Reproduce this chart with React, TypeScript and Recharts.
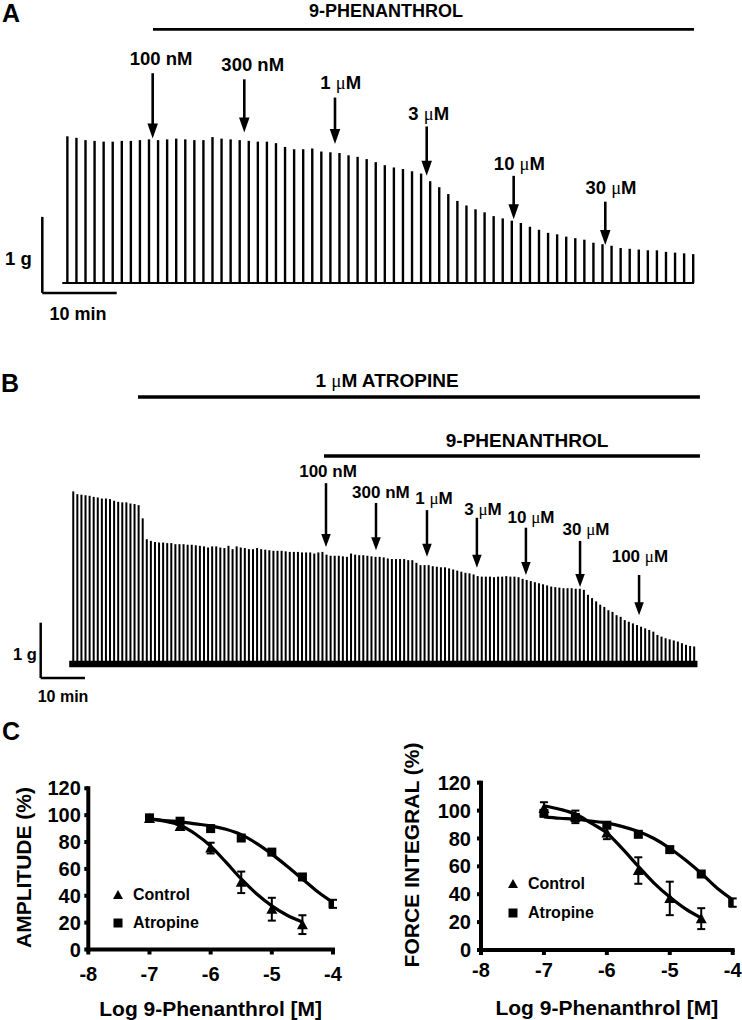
import React from 'react';
import {
  BarChart,
  Bar,
  ComposedChart,
  Line,
  Scatter,
  ErrorBar,
  XAxis,
  YAxis,
  ReferenceLine,
  ReferenceDot,
  Legend,
} from 'recharts';

const FONT = '"Liberation Sans", Arial, Helvetica, sans-serif';
const MU_FONT = '"Liberation Serif", "Times New Roman", serif';
const PAGE_W = 742;

// ---- panel A: peak tension of each spontaneous contraction (g above baseline)
const ampA = [
  1.93, 1.91, 1.88, 1.87, 1.86, 1.86, 1.87, 1.87, 1.88, 1.89, 1.88, 1.89, 1.9, 1.89, 1.88, 1.88, 1.92,
  1.9, 1.89, 1.88, 1.87, 1.86, 1.86, 1.84, 1.79, 1.76, 1.76, 1.77, 1.73, 1.72, 1.71, 1.68, 1.66, 1.63,
  1.59, 1.55, 1.52, 1.5, 1.47, 1.44, 1.34, 1.26, 1.17, 1.08, 1.02, 0.97, 0.93, 0.88, 0.85, 0.82,
  0.79, 0.74, 0.7, 0.66, 0.64, 0.61, 0.59, 0.57, 0.53, 0.51, 0.49, 0.46, 0.45, 0.44, 0.43, 0.43,
  0.41, 0.4, 0.39, 0.38,
];

// ---- panel B: same, with atropine in the bath
const ampB = [
  3.12, 3.07, 3.06, 3.05, 3.04, 3.02, 3.01, 2.99, 2.99, 2.98, 2.95, 2.93, 2.92, 2.92, 2.9, 2.89, 2.87,
  2.63,
  2.25, 2.22, 2.2, 2.19, 2.19, 2.18, 2.18, 2.16, 2.16, 2.16, 2.15, 2.15, 2.14, 2.13, 2.12, 2.1, 2.12,
  2.12, 2.1, 2.09, 2.13, 2.07, 2.12, 2.1, 2.09, 2.07, 2.07, 2.09, 2.07, 2.06, 2.05, 2.04, 2.04, 2.04,
  2.03, 2.02, 2.02, 2.02, 2.01, 2.01, 2.01, 1.99, 2.01, 2.02, 1.97, 1.95, 1.95, 1.95, 1.94, 1.93,
  1.99, 1.97, 1.96, 1.96, 1.95, 1.94, 1.93, 1.93,
  1.92, 1.9, 1.89, 1.89, 1.89, 1.89, 1.87, 1.87, 1.82, 1.78, 1.78, 1.78, 1.76, 1.75, 1.74, 1.74,
  1.72, 1.7, 1.68, 1.66, 1.64, 1.63, 1.61, 1.58, 1.57, 1.57, 1.57, 1.56, 1.57, 1.57, 1.58, 1.57,
  1.57, 1.56, 1.53, 1.51, 1.49, 1.47, 1.45, 1.43, 1.41, 1.39, 1.38, 1.37, 1.36, 1.36, 1.36, 1.35,
  1.35, 1.33, 1.24, 1.18, 1.12, 1.06, 1.02, 0.96, 0.93, 0.87, 0.84, 0.78, 0.75, 0.72, 0.69, 0.66,
  0.63, 0.6, 0.57, 0.51, 0.48, 0.45, 0.43, 0.41, 0.39, 0.36, 0.33, 0.31, 0.3,
];

// ---- panel C: concentration-response (mean, SEM) and fitted curves
const logDoseControl = [-7, -6.5, -6, -5.5, -5, -4.5];
const logDoseAtropine = [-7, -6.5, -6, -5.5, -5, -4.5, -4];
const amplitudeControl = [97.5, 91.5, 75.5, 50, 30, 18.5];
const amplitudeControlSem = [2, 2.5, 4, 8, 8.5, 7];
const amplitudeAtropine = [98, 95.5, 90, 83, 72.5, 54, 34];
const amplitudeAtropineSem = [1.5, 1.5, 1.5, 1.5, 1.5, 2, 3];
const forceControl = [101.5, 95.5, 84, 57, 37, 22.5];
const forceControlSem = [4.5, 4.5, 4.5, 9.5, 12, 7.5];
const forceAtropine = [98, 95, 89.5, 83, 72, 54.5, 34];
const forceAtropineSem = [2, 2, 2, 2, 1.5, 2, 3];

const fitLogDose = [-7, -6.75, -6.5, -6.25, -6, -5.75, -5.5, -5.25, -5, -4.75, -4.5, -4.25, -4];
const amplitudeFitControl = [97, 95.5, 92.5, 86, 77, 65, 52.5, 41.5, 32.5, 25.5, 20.5];
const amplitudeFitAtropine = [97.5, 96, 95, 93.5, 92, 89.5, 85.5, 79, 71, 62, 52.5, 43, 35];
const forceFitControl = [103.5, 101, 97.5, 91, 84, 72.5, 60, 48, 38, 29.5, 23];
const forceFitAtropine = [95.5, 94.5, 93.8, 92.5, 91, 88.5, 85, 80, 73, 64.5, 55, 44.5, 36];

// ---- annotations, in trace units (x: contraction number, y: g)
const arrowsA = [
  { label: '100 nM', x: 9.37, top: 2.76, tip: 1.9, lx: 10.3, ly: 2.87 },
  { label: '300 nM', x: 19.47, top: 2.68, tip: 1.98, lx: 20.4, ly: 2.79 },
  { label: '1 μM', x: 29.47, top: 2.44, tip: 1.83, lx: 30.1, ly: 2.55 },
  { label: '3 μM', x: 39.58, top: 2.06, tip: 1.41, lx: 39.8, ly: 2.14 },
  { label: '10 μM', x: 49.17, top: 1.41, tip: 0.84, lx: 49.8, ly: 1.49 },
  { label: '30 μM', x: 59.27, top: 1.07, tip: 0.5, lx: 59.9, ly: 1.17 },
];
const arrowsB = [
  { label: '100 nM', x: 61.86, top: 3.27, tip: 2.11, lx: 62.35, ly: 3.38 },
  { label: '300 nM', x: 74.1, top: 2.91, tip: 2.05, lx: 75.3, ly: 3.0 },
  { label: '1 μM', x: 86.58, top: 2.78, tip: 1.93, lx: 88.3, ly: 2.89 },
  { label: '3 μM', x: 98.8, top: 2.64, tip: 1.73, lx: 100.3, ly: 2.69 },
  { label: '10 μM', x: 110.8, top: 2.46, tip: 1.6, lx: 112.05, ly: 2.55 },
  { label: '30 μM', x: 124.05, top: 2.22, tip: 1.38, lx: 125.5, ly: 2.33 },
  { label: '100 μM', x: 138.5, top: 1.6, tip: 0.87, lx: 138.7, ly: 1.84 },
];

function withMu(text: string) {
  const out: React.ReactNode[] = [];
  text.split('μ').forEach((part, k) => {
    if (k > 0) {
      out.push(
        <tspan key={'m' + k} fontFamily={MU_FONT} fontWeight="normal">
          μ
        </tspan>
      );
    }
    if (part) out.push(<tspan key={'t' + k}>{part}</tspan>);
  });
  return out;
}

function note(key: string, x: number, y: number, text: string, size: number, anchor: string = 'middle') {
  return (
    <ReferenceDot
      key={key}
      x={x}
      y={y}
      r={0}
      ifOverflow="visible"
      shape={(p: any) => (
        <text x={p.cx} y={p.cy} textAnchor={anchor} fontFamily={FONT} fontSize={size} fontWeight="bold" fill="#000">
          {withMu(text)}
        </text>
      )}
    />
  );
}

function rule(key: string, x1: number, y1: number, x2: number, y2: number, w: number) {
  return (
    <ReferenceLine
      key={key}
      segment={[{ x: x1, y: y1 }, { x: x2, y: y2 }]}
      stroke="#000"
      strokeWidth={w}
      ifOverflow="visible"
    />
  );
}

function arrow(key: string, x: number, top: number, tip: number, shaft: number, headW: number, headL: number) {
  return (
    <ReferenceLine
      key={key}
      segment={[{ x, y: top }, { x, y: tip }]}
      ifOverflow="visible"
      shape={(p: any) => (
        <g>
          <line x1={p.x1} y1={p.y1} x2={p.x2} y2={p.y2 - headL + 1} stroke="#000" strokeWidth={shaft} />
          <polygon
            points={`${p.x2 - headW / 2},${p.y2 - headL} ${p.x2 + headW / 2},${p.y2 - headL} ${p.x2},${p.y2}`}
            fill="#000"
          />
        </g>
      )}
    />
  );
}

interface TraceProps {
  amps: number[];
  top: number;
  height: number;
  firstX: number;
  step: number;
  basePx: number;
  pxPerG: number;
  barSize: number;
  children?: React.ReactNode;
}

function TracePanel({ amps, top, height, firstX, step, basePx, pxPerG, barSize, children }: TraceProps) {
  const data = amps.map((amp, i) => ({ i, amp }));
  const xDomain = [-firstX / step, (PAGE_W - firstX) / step];
  const yDomain = [(basePx - top - height) / pxPerG, (basePx - top) / pxPerG];
  return (
    <div style={{ position: 'absolute', left: 0, top }}>
      <BarChart width={PAGE_W} height={height} data={data} margin={{ top: 0, right: 0, bottom: 0, left: 0 }}>
        <XAxis dataKey="i" type="number" domain={xDomain} allowDataOverflow hide />
        <YAxis type="number" domain={yDomain} allowDataOverflow hide />
        <Bar dataKey="amp" fill="#000" barSize={barSize} isAnimationActive={false} />
        {children}
      </BarChart>
    </div>
  );
}

const triangle = (p: any) => (
  <polygon
    points={`${p.cx},${p.cy - 5.5} ${p.cx + 5.5},${p.cy + 4.5} ${p.cx - 5.5},${p.cy + 4.5}`}
    fill="#000"
  />
);
const square = (p: any) => <rect x={p.cx - 4.5} y={p.cy - 4.5} width={9} height={9} fill="#000" />;

const legendContent = (rowH: number) => (props: any) => {
  const items = (props.payload || [])
    .filter((p: any) => p.type !== 'none')
    .sort((a: any, b: any) => (a.type === 'triangle' ? -1 : 0) - (b.type === 'triangle' ? -1 : 0));
  return (
    <div style={{ fontFamily: FONT, fontWeight: 'bold', fontSize: 16, color: '#000' }}>
      {items.map((p: any) => (
        <div key={p.value} style={{ display: 'flex', alignItems: 'center', height: rowH }}>
          <svg width={14} height={14}>
            {p.type === 'triangle' ? (
              <polygon points="7,2 12,11 2,11" fill="#000" />
            ) : (
              <rect x={2.5} y={2.5} width={9} height={9} fill="#000" />
            )}
          </svg>
          <span style={{ marginLeft: 8 }}>{p.value}</span>
        </div>
      ))}
    </div>
  );
};

interface DoseProps {
  left: number;
  marginTop: number;
  marginRight: number;
  yAxisW: number;
  xAxisH: number;
  tickGapX: number;
  tickGapY: number;
  yTitle: string;
  yTitleX: number;
  yTitleShift: number;
  xTitleDy: number;
  control: number[];
  controlSem: number[];
  atropine: number[];
  atropineSem: number[];
  fitControl: number[];
  fitAtropine: number[];
  legendLeft: number;
  legendTop: number;
  legendRow: number;
}

function DosePanel(d: DoseProps) {
  const controlPts = logDoseControl.map((x, k) => ({ x, y: d.control[k], err: d.controlSem[k] }));
  const atropinePts = logDoseAtropine.map((x, k) => ({ x, y: d.atropine[k], err: d.atropineSem[k] }));
  const fitC = d.fitControl.map((y, k) => ({ x: fitLogDose[k], y }));
  const fitA = d.fitAtropine.map((y, k) => ({ x: fitLogDose[k], y }));
  const tickStyle = { fill: '#000', fontSize: 20, fontWeight: 'bold', fontFamily: FONT };
  const axisLine = { stroke: '#000', strokeWidth: 4, strokeLinecap: 'square' as const };
  const tickLine = { stroke: '#000', strokeWidth: 4 };

  const xTitle = (props: any) => {
    const vb = props.viewBox;
    return (
      <text x={vb.x + vb.width / 2} y={vb.y + d.xTitleDy} textAnchor="middle" fontFamily={FONT} fontWeight="bold" fontSize={21} fill="#000">
        Log 9-Phenanthrol [M]
      </text>
    );
  };
  const yTitle = (props: any) => {
    const vb = props.viewBox;
    const cx = vb.x + d.yTitleX;
    const cy = vb.y + vb.height / 2 + d.yTitleShift;
    return (
      <text x={cx} y={cy} dy="0.36em" transform={`rotate(-90 ${cx} ${cy})`} textAnchor="middle" fontFamily={FONT} fontWeight="bold" fontSize={21} fill="#000">
        {d.yTitle}
      </text>
    );
  };

  return (
    <div style={{ position: 'absolute', left: d.left, top: 720 }}>
      <ComposedChart width={371} height={300} margin={{ top: d.marginTop, right: d.marginRight, bottom: 0, left: 0 }}>
        <XAxis
          dataKey="x"
          type="number"
          domain={[-8, -4]}
          ticks={[-8, -7, -6, -5, -4]}
          interval={0}
          allowDataOverflow
          height={d.xAxisH}
          axisLine={axisLine}
          tickLine={tickLine}
          tickSize={5}
          tickMargin={d.tickGapX}
          tick={tickStyle}
          label={xTitle}
        />
        <YAxis
          dataKey="y"
          type="number"
          domain={[0, 120]}
          ticks={[0, 20, 40, 60, 80, 100, 120]}
          interval={0}
          allowDataOverflow
          width={d.yAxisW}
          axisLine={axisLine}
          tickLine={tickLine}
          tickSize={4}
          tickMargin={d.tickGapY}
          tick={tickStyle}
          label={yTitle}
        />
        <Line data={fitC} dataKey="y" type="monotone" stroke="#000" strokeWidth={3.2} dot={false} legendType="none" isAnimationActive={false} />
        <Line data={fitA} dataKey="y" type="monotone" stroke="#000" strokeWidth={3.2} dot={false} legendType="none" isAnimationActive={false} />
        <Scatter name="Control" data={controlPts} dataKey="y" legendType="triangle" shape={triangle} isAnimationActive={false}>
          <ErrorBar dataKey="err" direction="y" width={4} stroke="#000" strokeWidth={2} />
        </Scatter>
        <Scatter name="Atropine" data={atropinePts} dataKey="y" legendType="square" shape={square} isAnimationActive={false}>
          <ErrorBar dataKey="err" direction="y" width={4} stroke="#000" strokeWidth={2} />
        </Scatter>
        <Legend
          layout="vertical"
          align="center"
          verticalAlign="middle"
          content={legendContent(d.legendRow)}
          wrapperStyle={{ left: d.legendLeft, top: d.legendTop, width: 120 }}
        />
      </ComposedChart>
    </div>
  );
}

export default function App() {
  return (
    <div style={{ position: 'absolute', left: 0, top: 0, width: PAGE_W, height: 1020, background: '#fff' }}>
      {/* A */}
      <TracePanel amps={ampA} top={0} height={330} firstX={67.7} step={9.07} basePx={283} pxPerG={76} barSize={2.4}>
        {[
          note('letterA', -7.24, 3.43, 'A', 25, 'start'),
          note('titleA', 35.1, 3.5, '9-PHENANTHROL', 18),
          rule('barA', 9.4, 3.338, 69.05, 3.338, 2.7),
          rule('baseA', -0.6, 0, 69.05, 0, 2),
          ...arrowsA.map((a, k) => arrow('arA' + k, a.x, a.top, a.tip, 2.6, 10.5, 15)),
          ...arrowsA.map((a, k) => note('lbA' + k, a.lx, a.ly, a.label, 18.5)),
          rule('sbvA', -2.8, -0.13, -2.8, 0.87, 2.5),
          rule('sbhA', -2.8, -0.13, 5.4, -0.13, 2.5),
          note('gA', -6.91, 0.24, '1 g', 18.5, 'start'),
          note('minA', 1.14, -0.49, '10 min', 18),
        ]}
      </TracePanel>

      {/* B */}
      <TracePanel amps={ampB} top={330} height={420} firstX={73.3} step={4.085} basePx={663} pxPerG={55} barSize={2}>
        {[
          rule('baseB', -1, -0.02, 152.8, -0.02, 6.5),
          note('letterB', -17.7, 4.93, 'B', 25, 'start'),
          note('titleB1', 76.8, 5.02, '1 μM ATROPINE', 19),
          rule('barB1', 15.84, 4.836, 153.4, 4.836, 3.3),
          note('titleB2', 111.07, 3.93, '9-PHENANTHROL', 19),
          rule('barB2', 61.37, 3.764, 153.4, 3.764, 3.3),
          ...arrowsB.map((a, k) => arrow('arB' + k, a.x, a.top, a.tip, 2.5, 9.5, 13)),
          ...arrowsB.map((a, k) => note('lbB' + k, a.lx, a.ly, a.label, 17)),
          rule('sbvB', -7.98, -0.273, -7.98, 0.733, 2.5),
          rule('sbhB', -7.98, -0.273, 2.86, -0.273, 2.5),
          note('gB', -14.76, 0.055, '1 g', 16.5, 'start'),
          note('minB', -2.52, -0.704, '10 min', 16),
          note('letterC', -17.45, -1.4, 'C', 25, 'start'),
        ]}
      </TracePanel>

      {/* C */}
      <DosePanel
        left={0}
        marginTop={68.3}
        marginRight={38}
        yAxisW={88.3}
        xAxisH={70.5}
        tickGapX={12}
        tickGapY={3.5}
        yTitle="AMPLITUDE (%)"
        yTitleX={23}
        yTitleShift={-1.4}
        xTitleDy={66.5}
        control={amplitudeControl}
        controlSem={amplitudeControlSem}
        atropine={amplitudeAtropine}
        atropineSem={amplitudeAtropineSem}
        fitControl={amplitudeFitControl}
        fitAtropine={amplitudeFitAtropine}
        legendLeft={111}
        legendTop={161}
        legendRow={28}
      />
      <DosePanel
        left={371}
        marginTop={62.7}
        marginRight={9.3}
        yAxisW={110}
        xAxisH={70}
        tickGapX={8}
        tickGapY={6}
        yTitle="FORCE INTEGRAL (%)"
        yTitleX={40}
        yTitleShift={-11.35}
        xTitleDy={65}
        control={forceControl}
        controlSem={forceControlSem}
        atropine={forceAtropine}
        atropineSem={forceAtropineSem}
        fitControl={forceFitControl}
        fitAtropine={forceFitAtropine}
        legendLeft={135}
        legendTop={149.5}
        legendRow={29}
      />
    </div>
  );
}
